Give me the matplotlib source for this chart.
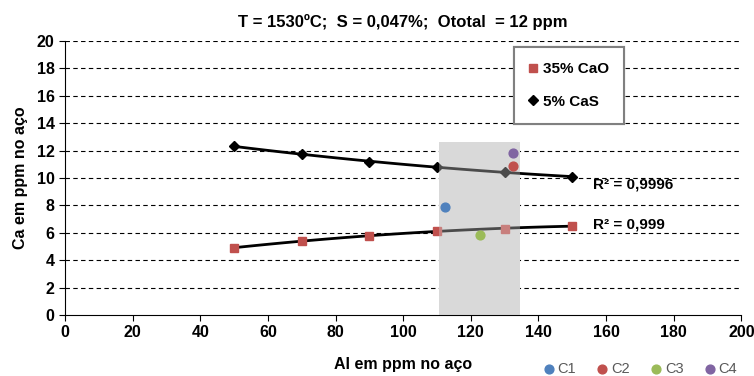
import numpy as np
import matplotlib
matplotlib.use("Agg")
import matplotlib.pyplot as plt

plt.rcParams['font.family'] = ['Liberation Sans', 'DejaVu Sans']

al = [50, 70, 90, 110, 130, 150]
ca_cao = [4.9, 5.4, 5.8, 6.1, 6.3, 6.5]
ca_cas = [12.3, 11.75, 11.2, 10.8, 10.4, 10.1]

c_labels = ["C1", "C2", "C3", "C4"]
c_x = [112.4, 132.5, 122.8, 132.5]
c_y = [7.9, 10.9, 5.85, 11.8]
c_colors = ["#4f81bd", "#c0504d", "#9bbb59", "#8064a2"]

band_x = (110.5, 134.5)
band_top = 12.6

fig = plt.figure(figsize=(7.54, 3.76), dpi=100)
ax = fig.add_axes([0.0862, 0.1622, 0.897, 0.729])

ax.set_xlim(0, 200)
ax.set_ylim(0, 20)
ax.set_xticks(range(0, 201, 20))
ax.set_yticks(range(0, 21, 2))
for y in range(2, 21, 2):
    ax.axhline(y, color="black", lw=0.8, ls=(0, (4, 3)), zorder=0)

ax.fill_between(band_x, 0, band_top, color="#d9d9d9", zorder=1, lw=0)

xs = np.linspace(50, 150, 100)
p1 = np.polyfit(al, ca_cao, 2)
p2 = np.polyfit(al, ca_cas, 2)
ax.plot(xs, np.polyval(p1, xs), color="black", lw=2, zorder=2)
ax.plot(xs, np.polyval(p2, xs), color="black", lw=2, zorder=2)

h1, = ax.plot(al, ca_cao, ls="none", marker="s", ms=6, color="#c0504d", zorder=3, label="35% CaO")
h2, = ax.plot(al, ca_cas, ls="none", marker="D", ms=5, color="black", zorder=3, label="5% CaS")

ax.text(156, 9.55, "R² = 0,9996", fontsize=11, fontweight="bold", va="center")
ax.text(156, 6.6, "R² = 0,999", fontsize=11, fontweight="bold", va="center")

# shaded overlay on top of lines like the reference
ax.fill_between(band_x, 0, band_top, color="#d9d9d9", alpha=0.35, zorder=4, lw=0)

hc = []
for lab, x, y, c in zip(c_labels, c_x, c_y, c_colors):
    h = ax.scatter([x], [y], s=40, color=c, zorder=5, label=lab)
    hc.append(h)

for s in ["top", "right"]:
    ax.spines[s].set_visible(False)
ax.tick_params(labelsize=11.5, width=0.8, length=4)
for t in ax.get_xticklabels() + ax.get_yticklabels():
    t.set_fontweight("bold")

ax.set_xlabel("Al em ppm no aço", fontsize=11.5, fontweight="bold", labelpad=12)
ax.set_ylabel("Ca em ppm no aço", fontsize=11.5, fontweight="bold", labelpad=6)
ax.set_title("T = 1530ºC;  S = 0,047%;  Ototal  = 12 ppm", fontsize=12, fontweight="bold", pad=10)

leg = ax.legend(handles=[h1, h2], loc="upper left", bbox_to_anchor=(0.652, 1.005),
                frameon=True, fancybox=False, edgecolor="#808080", framealpha=1,
                prop={"size": 11, "weight": "bold"}, handlelength=0.6, handletextpad=0.3,
                labelspacing=1.2, borderpad=1.0)
leg.get_frame().set_linewidth(1.5)
ax.add_artist(leg)

fig.legend(handles=hc, loc="lower right", bbox_to_anchor=(0.995, -0.035), ncol=4, frameon=False,
           fontsize=10.5, handlelength=0.6, handletextpad=0.3, columnspacing=1.5,
           labelcolor="#595959")

fig.savefig("out.png", dpi=100)
